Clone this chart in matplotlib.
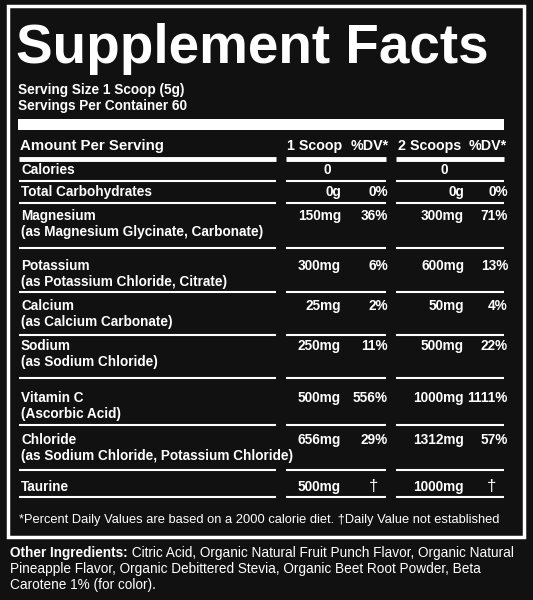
import matplotlib.pyplot as plt

plt.rcParams['font.family'] = ['Liberation Sans', 'DejaVu Sans']

title = 'Supplement Facts'
serving = ['Serving Size 1 Scoop (5g)', 'Servings Per Container 60']
headers = ['Amount Per Serving', '1 Scoop', '%DV*', '2 Scoops', '%DV*']

names = ['Calories', 'Total Carbohydrates', 'Magnesium', 'Potassium', 'Calcium',
         'Sodium', 'Vitamin C', 'Chloride', 'Taurine']
subnames = ['', '', '(as Magnesium Glycinate, Carbonate)', '(as Potassium Chloride, Citrate)',
            '(as Calcium Carbonate)', '(as Sodium Chloride)', '(Ascorbic Acid)',
            '(as Sodium Chloride, Potassium Chloride)', '']
amt1 = ['0', '0g', '150mg', '300mg', '25mg', '250mg', '500mg', '656mg', '500mg']
dv1 = ['', '0%', '36%', '6%', '2%', '11%', '556%', '29%', '\u2020']
amt2 = ['0', '0g', '300mg', '600mg', '50mg', '500mg', '1000mg', '1312mg', '1000mg']
dv2 = ['', '0%', '71%', '13%', '4%', '22%', '1111%', '57%', '\u2020']

footnote = '*Percent Daily Values are based on a 2000 calorie diet. \u2020Daily Value not established'
other_bold = 'Other Ingredients:'
other_lines = [' Citric Acid, Organic Natural Fruit Punch Flavor, Organic Natural',
               'Pineapple Flavor, Organic Debittered Stevia, Organic Beet Root Powder, Beta',
               'Carotene 1% (for color).']

row_y = [170, 192, 216, 266, 306, 346, 398, 440, 487]
line_y = [181, 203, 248, 292, 335, 378, 425, 470, 497]

bg = '#111111'
fig = plt.figure(figsize=(5.33, 6), dpi=100, facecolor=bg)
ax = fig.add_axes([0, 0, 1, 1])
ax.set_xlim(0, 533)
ax.set_ylim(600, 0)
ax.axis('off')

# outer box and thick bar
ax.add_patch(plt.Rectangle((8, 6), 516, 531, fill=False, ec='white', lw=2.5))
ax.add_patch(plt.Rectangle((18, 119), 486, 11, color='white', lw=0))

ax.text(16, 49, title, color='white', fontsize=39.5, fontweight='bold', va='center')
ax.text(18, 90, serving[0], color='white', fontsize=9.8, fontweight='bold', va='center')
ax.text(18, 106, serving[1], color='white', fontsize=9.8, fontweight='bold', va='center')

fs = 9.8
hcols = [342, 389, 461, 507]
ax.text(20, 146, headers[0], color='white', fontsize=10.8, fontweight='bold', va='center')
for x, h in zip(hcols, headers[1:]):
    ax.text(x, 146, h, color='white', fontsize=10.3, fontweight='bold', va='center', ha='right')

segs = [(19, 276), (286, 386), (396, 504)]
for y, w in [(159, 3.5)] + [(y, 1.5) for y in line_y]:
    for a, b in segs:
        ax.plot([a, b], [y, y], color='white', lw=w, solid_capstyle='butt')

for i in range(len(names)):
    y = row_y[i]
    ax.text(21, y, names[i], color='white', fontsize=fs, fontweight='bold', va='center')
    if subnames[i]:
        ax.text(21, y + 16, subnames[i], color='white', fontsize=fs, fontweight='bold', va='center')
    if i == 0:
        ax.text(327, y, amt1[i], color='white', fontsize=fs, fontweight='bold', va='center', ha='center')
        ax.text(444, y, amt2[i], color='white', fontsize=fs, fontweight='bold', va='center', ha='center')
        continue
    ax.text(341, y, amt1[i], color='white', fontsize=fs, fontweight='bold', va='center', ha='right')
    ax.text(464, y, amt2[i], color='white', fontsize=fs, fontweight='bold', va='center', ha='right')
    if dv1[i] == '\u2020':
        ax.text(374, y, dv1[i], color='white', fontsize=12, va='center', ha='center')
        ax.text(492, y, dv2[i], color='white', fontsize=12, va='center', ha='center')
    else:
        ax.text(388, y, dv1[i], color='white', fontsize=fs, fontweight='bold', va='center', ha='right')
        ax.text(508, y, dv2[i], color='white', fontsize=fs, fontweight='bold', va='center', ha='right')

ax.text(19, 520, footnote, color='white', fontsize=9.3, va='center')

t = ax.text(10, 553, other_bold, color='white', fontsize=9.8, fontweight='bold', va='center')
fig.canvas.draw()
x_end = t.get_window_extent().x1 * 533 / fig.bbox.width
ax.text(x_end, 553, other_lines[0], color='white', fontsize=9.8, va='center')
ax.text(10, 569, other_lines[1], color='white', fontsize=9.8, va='center')
ax.text(10, 585, other_lines[2], color='white', fontsize=9.8, va='center')

fig.savefig('out.png', dpi=100, facecolor=bg)
